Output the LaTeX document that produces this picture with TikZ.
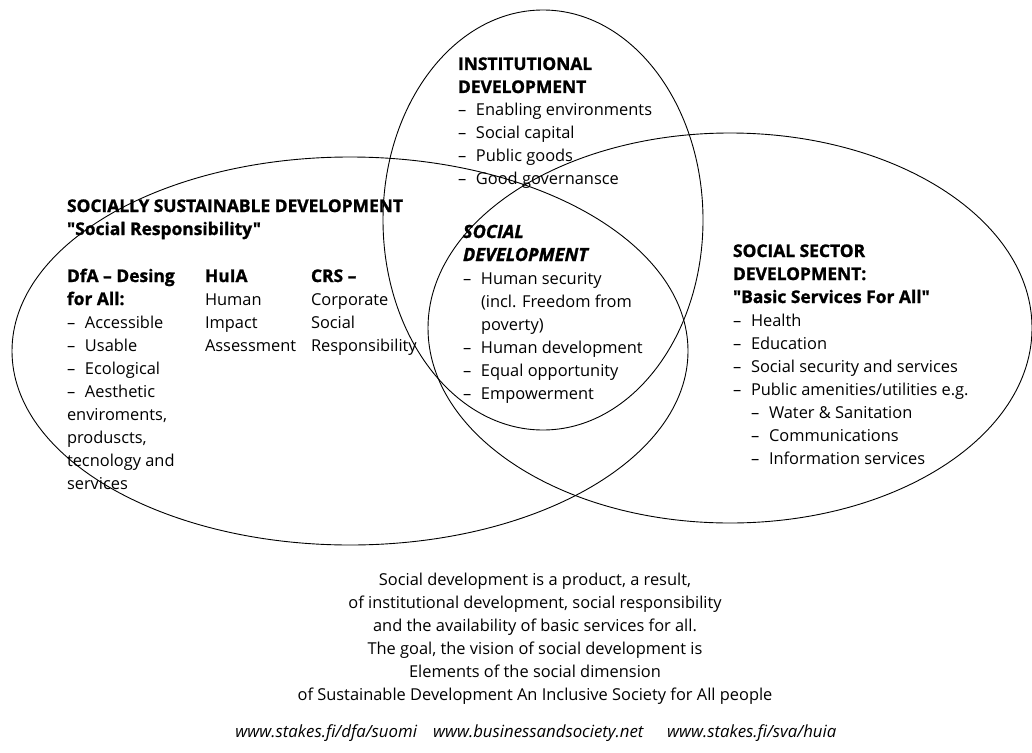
\documentclass[tikz,border=0pt]{standalone}
\usepackage{fontspec}
\setmainfont{Open Sans}[Ligatures=TeXOff,
  BoldFeatures={FakeBold=1.2}, BoldItalicFeatures={FakeBold=1.2}]
% dash of a list item and the hanging indent of its continuation lines
\newcommand\itemdash{\makebox[18pt][l]{–}}
\newcommand\hang{\hspace*{18pt}}
% heavy headings, slightly larger than the body text
\newcommand\hd[1]{{\fontsize{17.4}{23}\selectfont\bfseries #1}}
\newcommand\hdi[1]{{\fontsize{18.2}{23}\selectfont\bfseries\itshape #1}}
\begin{document}
\begin{tikzpicture}[x=1pt,y=-1pt,
  ring/.style={draw=black, line width=0.9pt},
  txt/.style={anchor=base west, inner sep=0pt, outer sep=0pt,
              font=\fontsize{16.4}{23}\selectfont},
  ctxt/.style={txt, anchor=base},
  link/.style={txt, font=\fontsize{16.8}{23}\selectfont\itshape}]
\useasboundingbox (0,0) rectangle (1032,752);
\fill[white] (0,0) rectangle (1032,752);

% the three overlapping fields
\draw[ring] (350,351) ellipse [x radius=338, y radius=194];
\draw[ring] (543,220) ellipse [x radius=160, y radius=210];
\draw[ring] (730,328) ellipse [x radius=302, y radius=195];

% institutional development
\node[txt] (inst) at (458,70) {\begin{tabular}[t]{@{}l@{}}
\hd{INSTITUTIONAL}\\
\hd{DEVELOPMENT}\\
\itemdash Enabling environments\\
\itemdash Social capital\\
\itemdash Public goods\\
\itemdash Good governansce
\end{tabular}};

% socially sustainable development
\node[txt] (ssd) at (67,212) {\begin{tabular}[t]{@{}l@{}}
\hd{SOCIALLY SUSTAINABLE DEVELOPMENT}\\
\hd{"Social Responsibility"}
\end{tabular}};

\node[txt] (dfa) at (67,282) {\begin{tabular}[t]{@{}l@{}}
\hd{DfA – Desing}\\
\hd{for All:}\\
\itemdash Accessible\\
\itemdash Usable\\
\itemdash Ecological\\
\itemdash Aesthetic\\
enviroments,\\
produscts,\\
tecnology and\\
services
\end{tabular}};

\node[txt] (huia) at (205,282) {\begin{tabular}[t]{@{}l@{}}
\hd{HuIA}\\
Human\\
Impact\\
Assessment
\end{tabular}};

\node[txt] (crs) at (311,282) {\begin{tabular}[t]{@{}l@{}}
\hd{CRS –}\\
Corporate\\
Social\\
Responsibility
\end{tabular}};

% social development, in the common part
\node[txt] (soc) at (463,238) {\begin{tabular}[t]{@{}l@{}}
\hdi{SOCIAL}\\
\hdi{DEVELOPMENT}\\
\itemdash Human security\\
\hang (incl. Freedom from\\
\hang poverty)\\
\itemdash Human development\\
\itemdash Equal opportunity\\
\itemdash Empowerment
\end{tabular}};

% social sector development
\node[txt] (sector) at (733,257) {\begin{tabular}[t]{@{}l@{}}
\hd{SOCIAL SECTOR}\\
\hd{DEVELOPMENT:}\\
\hd{"Basic Services For All"}\\
\itemdash Health\\
\itemdash Education\\
\itemdash Social security and services\\
\itemdash Public amenities/utilities e.g.\\
\hang\itemdash Water \& Sanitation\\
\hang\itemdash Communications\\
\hang\itemdash Information services
\end{tabular}};

% explanation below the fields
\node[ctxt] (note) at (535,585) {\begin{tabular}[t]{@{}c@{}}
Social development is a product, a result,\\
of institutional development, social responsibility\\
and the availability of basic services for all.\\
The goal, the vision of social development is\\
Elements of the social dimension\\
of Sustainable Development An Inclusive Society for All people
\end{tabular}};

% web addresses
\node[link, anchor=base east] (dfaurl) at (417,737) {www.stakes.fi/dfa/suomi};
\node[link] (bsurl) at (433,737) {www.businessandsociety.net};
\node[link] (huiaurl) at (667,737) {www.stakes.fi/sva/huia};
\end{tikzpicture}
\end{document}
